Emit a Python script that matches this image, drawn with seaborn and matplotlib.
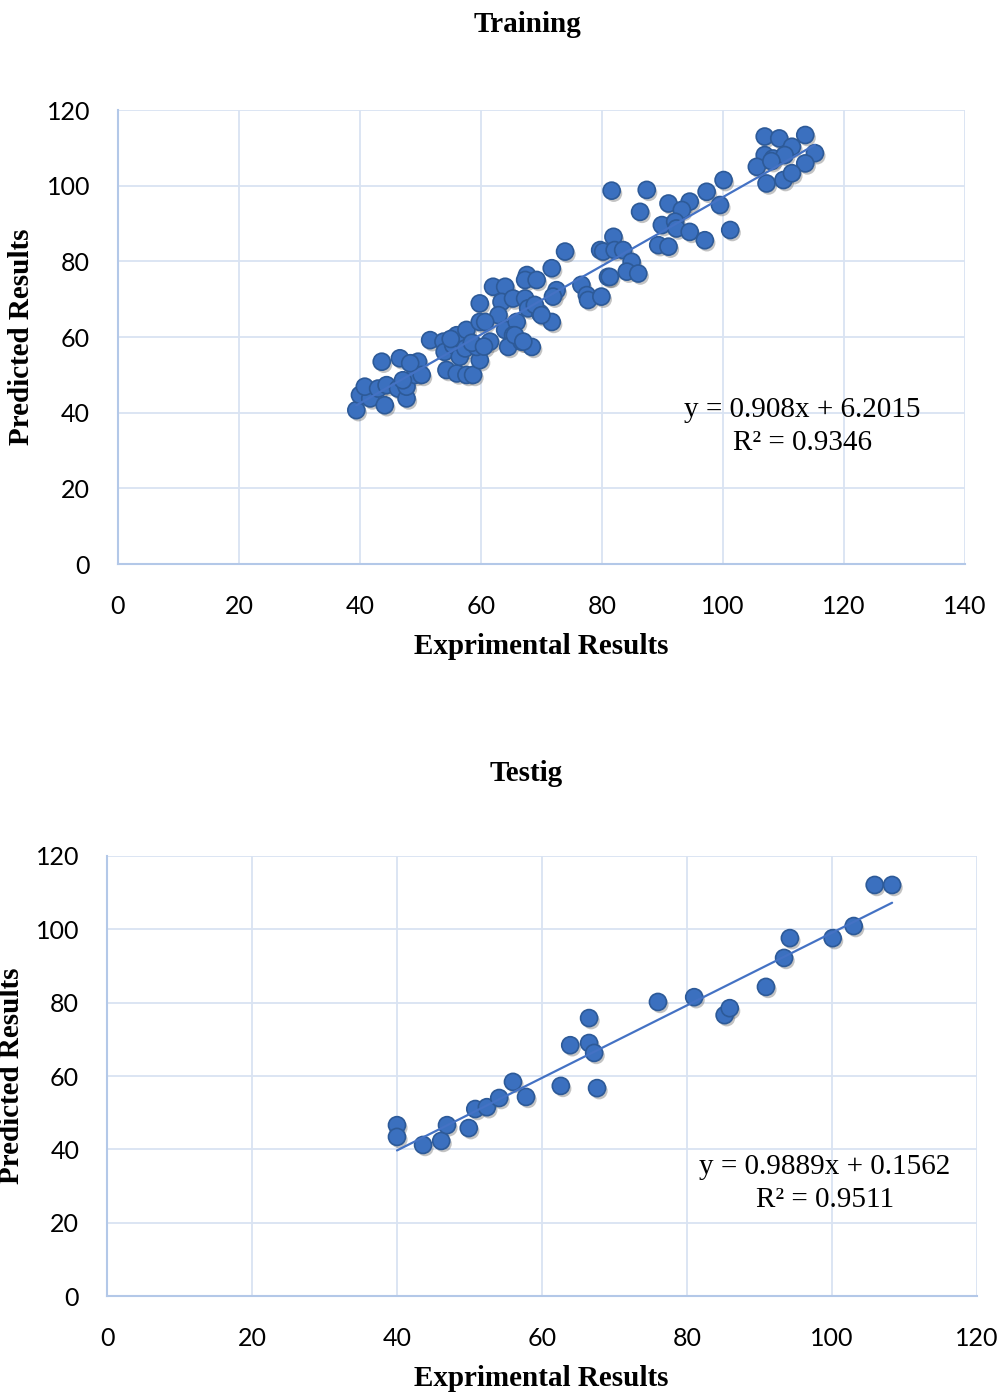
import matplotlib
matplotlib.use("Agg")
import matplotlib.pyplot as plt
import matplotlib.patheffects as pe
import numpy as np
import pandas as pd
import seaborn as sns

# training set (experimental vs predicted)
train_x = [39.4, 40.0, 41.7, 40.8, 43.0, 44.4, 44.1, 43.6, 46.6, 46.3, 47.7, 47.7, 49.6, 49.1,
           50.2, 48.3, 47.1, 51.6, 53.8, 54.0, 54.3, 56.0, 57.6, 58.7, 55.4, 56.5, 56.0, 57.6,
           57.4, 59.8, 59.3, 61.5, 59.8, 62.0, 64.0, 59.8, 63.4, 65.3, 62.9, 64.0, 65.9, 65.3,
           64.5, 66.7, 68.4, 67.3, 67.8, 69.8, 71.7, 72.5, 71.9, 55.0, 58.5, 60.5,
           67.6, 67.3, 69.2, 71.7, 73.9, 76.6, 77.5, 77.7, 79.9, 81.0, 60.7, 68.9, 70.0, 65.6, 67.0,
           81.6, 87.4, 86.3, 91.0, 94.5, 93.2, 97.3, 100.1, 99.5, 89.9, 92.1, 92.3, 94.5, 89.3,
           91.0, 97.0, 101.2, 81.9, 79.7, 80.2, 82.1, 83.5, 84.9, 84.1, 86.0, 81.3,
           106.9, 109.3, 113.6, 111.4, 115.2, 106.9, 108.3, 110.2, 105.6, 113.6, 107.2, 110.0,
           111.4, 108.0]
train_y = [40.7, 44.7, 43.8, 46.9, 46.4, 47.3, 42.0, 53.5, 54.4, 46.4, 43.8, 46.9, 53.5, 50.0,
           50.0, 53.1, 48.6, 59.2, 58.8, 56.1, 51.3, 50.4, 50.0, 50.0, 57.9, 54.8, 60.5, 61.9,
           57.0, 53.9, 57.4, 58.8, 64.0, 73.3, 73.3, 68.9, 69.3, 70.2, 65.8, 61.9, 64.0, 60.5,
           57.4, 58.8, 57.4, 70.2, 67.6, 66.3, 64.0, 72.4, 70.7, 59.5, 58.5, 57.5,
           76.4, 75.1, 75.1, 78.2, 82.6, 73.8, 71.1, 69.8, 70.7, 75.9, 64.0, 68.5, 65.8, 60.5, 58.8,
           98.7, 98.9, 93.1, 95.3, 95.8, 93.6, 98.4, 101.5, 94.9, 89.6, 90.5, 88.7, 87.8, 84.3,
           83.9, 85.6, 88.3, 86.5, 83.0, 82.6, 83.0, 83.0, 79.9, 77.3, 76.8, 75.9,
           113.0, 112.5, 113.4, 110.3, 108.6, 108.1, 107.2, 108.1, 105.0, 105.9, 100.6, 101.5,
           103.3, 106.5]

# testing set
test_x = [40.0, 40.0, 43.6, 46.1, 46.9, 49.9, 50.8, 52.4, 54.1, 56.0, 57.8, 62.6, 63.9, 66.5,
          66.5, 67.2, 67.6, 76.0, 81.0, 85.2, 85.9, 90.9, 93.4, 94.2, 100.1, 103.0, 105.9, 108.3]
test_y = [46.6, 43.4, 41.2, 42.3, 46.6, 45.8, 51.0, 51.5, 54.0, 58.4, 54.3, 57.3, 68.4, 69.0,
          75.8, 66.3, 56.7, 80.2, 81.5, 76.6, 78.5, 84.3, 92.2, 97.6, 97.6, 100.9, 112.1, 112.1]

# Excel trendline coefficients as printed on the chart
train_fit = (0.908, 6.2015, 0.9346)
test_fit = (0.9889, 0.1562, 0.9511)

sns.set_theme(style="white")
serif = ["Liberation Serif", "DejaVu Serif"]
plt.rcParams["font.family"] = ["Lato", "DejaVu Sans"]
plt.rcParams["text.color"] = "black"
plt.rcParams["xtick.color"] = "black"
plt.rcParams["ytick.color"] = "black"

FACE = "#3B70BF"
EDGE = "#2D5A98"
GRID = "#D9E3F2"
AXIS = "#B3C8E8"


def draw_panel(ax, x, y, fit, xmax, eq_pos, eq_text):
    df = pd.DataFrame({"x": x, "y": y})
    sc = sns.scatterplot(data=df, x="x", y="y", ax=ax, s=150, color=FACE,
                         edgecolor=EDGE, linewidth=1.2, zorder=3)
    sc.collections[0].set_path_effects([
        pe.SimplePatchShadow(offset=(1.5, -2), shadow_rgbFace="#555555", alpha=0.35),
        pe.Normal()])
    xs = np.array([min(x), max(x)])
    sns.lineplot(x=xs, y=fit[0] * xs + fit[1], ax=ax, color="#4472C4", linewidth=1.6, zorder=4)
    ax.set_xlim(0, xmax)
    ax.set_ylim(0, 120)
    ax.set_xticks(range(0, xmax + 1, 20))
    ax.set_yticks(range(0, 121, 20))
    ax.grid(True, color=GRID, linewidth=1.3)
    ax.set_axisbelow(True)
    for side in ["top", "right"]:
        ax.spines[side].set_visible(False)
    for side in ["left", "bottom"]:
        ax.spines[side].set_color(AXIS)
        ax.spines[side].set_linewidth(1.5)
    ax.tick_params(axis="both", length=0, labelsize=18, colors="black")
    ax.tick_params(axis="x", pad=22)
    ax.tick_params(axis="y", pad=20)
    ax.set_xlabel("")
    ax.set_ylabel("")
    ax.text(eq_pos[0], eq_pos[1], eq_text, ha="center", va="center", color="black",
            fontsize=21, family=serif, linespacing=1.35, zorder=5)


fig = plt.figure(figsize=(10.03, 13.93), dpi=100)
ax1 = fig.add_axes([0.1176, 0.595, 0.8445, 0.326])
ax2 = fig.add_axes([0.1067, 0.0696, 0.8673, 0.3159])

draw_panel(ax1, train_x, train_y, train_fit, 140, (113.1, 36.4),
           f"y = {train_fit[0]}x + {train_fit[1]}\nR² = {train_fit[2]}")
draw_panel(ax2, test_x, test_y, test_fit, 120, (99.0, 30.6),
           f"y = {test_fit[0]}x + {test_fit[1]}\nR² = {test_fit[2]}")

label_kw = dict(ha="center", va="center", fontsize=21, fontweight="bold",
                family=serif, color="black")
fig.text(0.526, 1 - 25 / 1393, "Training", **label_kw)
fig.text(0.525, 1 - 773 / 1393, "Testig", **label_kw)
fig.text(0.540, 1 - 646 / 1393, "Exprimental Results", **label_kw)
fig.text(0.540, 1 - 1378 / 1393, "Exprimental Results", **label_kw)
fig.text(22 / 1003, 1 - 337 / 1393, "Predicted Results", rotation=90, **label_kw)
fig.text(12 / 1003, 1 - 1076 / 1393, "Predicted Results", rotation=90, **label_kw)

fig.savefig("out.png", dpi=100, facecolor="white")
